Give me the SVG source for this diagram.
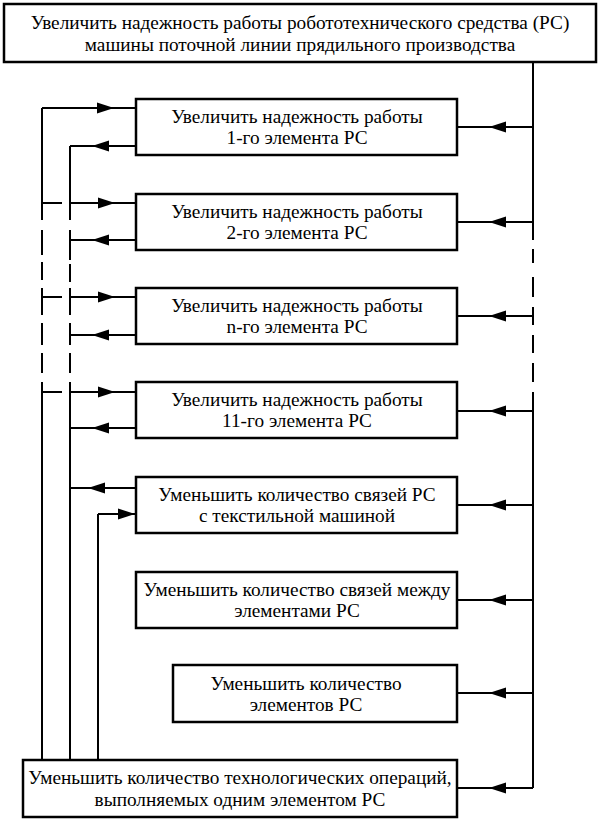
<svg xmlns="http://www.w3.org/2000/svg" width="599" height="831" viewBox="0 0 599 831">
<style>
.box{fill:#fff;stroke:#000;stroke-width:2.5}
.ln{fill:none;stroke:#000;stroke-width:2}
text{fill:#000;text-anchor:middle}
</style>
<defs>
<path id="aL" d="M0,0 L17,-5.5 L17,5.5 Z" fill="#000"/>
<path id="aR" d="M0,0 L-17,-5.5 L-17,5.5 Z" fill="#000"/>
</defs>
<rect width="599" height="831" fill="#fff"/>
<g id="connectors">
<path class="ln" d="M533,62 V240 M533,249 V263 M533,277 V297 M533,307 V325 M533,335 V353 M533,363 V382 M533,392 V788"/>
<path class="ln" d="M533,127 H457 M533,222 H457 M533,316 H457 M533,411 H457 M533,505 H457 M533,600 H457 M533,693 H457 M533,788 H457"/>
<use href="#aL" x="489" y="127"/><use href="#aL" x="489" y="222"/><use href="#aL" x="489" y="316"/><use href="#aL" x="489" y="411"/>
<use href="#aL" x="489" y="505"/><use href="#aL" x="489" y="600"/><use href="#aL" x="489" y="693"/><use href="#aL" x="489" y="788"/>
<path class="ln" d="M42,108 V220 M42,230 V255 M42,262 V280 M42,288 V315 M42,323 V345 M42,353 V373 M42,382 V760"/>
<path class="ln" d="M70,146 V220 M70,230 V260 M70,264 V282 M70,288 V315 M70,323 V345 M70,353 V373 M70,382 V760"/>
<path class="ln" d="M98,514 V760"/>
<path class="ln" d="M42,108 H136 M70,146 H136 M42,203 H62 M70,203 H136 M70,240 H136 M42,297 H62 M70,297 H136 M70,335 H136 M42,392 H62 M70,392 H136 M70,428 H136 M70,488 H136 M98,514 H136"/>
<use href="#aR" x="114" y="108"/><use href="#aL" x="92" y="146"/>
<use href="#aR" x="115" y="203"/><use href="#aL" x="92" y="240"/>
<use href="#aR" x="115" y="297"/><use href="#aL" x="92" y="335"/>
<use href="#aR" x="115" y="392"/><use href="#aL" x="92" y="428"/>
<use href="#aL" x="88" y="488"/><use href="#aR" x="135" y="514"/>
</g>
<g font-family="Liberation Serif, Times New Roman, serif" font-size="19.3">
<g id="top">
<rect class="box" x="4" y="4" width="592" height="58"/>
<text x="300" y="29">Увеличить надежность работы робототехнического средства (РС)</text>
<text x="300" y="51">машины поточной линии прядильного производства</text>
</g>
<g id="n1">
<rect class="box" x="136" y="99" width="321" height="56"/>
<text x="297" y="123">Увеличить надежность работы</text>
<text x="297" y="144">1-го элемента РС</text>
</g>
<g id="n2">
<rect class="box" x="136" y="194" width="321" height="56"/>
<text x="297" y="218">Увеличить надежность работы</text>
<text x="297" y="239">2-го элемента РС</text>
</g>
<g id="n3">
<rect class="box" x="136" y="288" width="321" height="56"/>
<text x="297" y="312">Увеличить надежность работы</text>
<text x="297" y="333">n-го элемента РС</text>
</g>
<g id="n4">
<rect class="box" x="136" y="382" width="321" height="56"/>
<text x="297" y="406">Увеличить надежность работы</text>
<text x="297" y="427">11-го элемента РС</text>
</g>
<g id="n5">
<rect class="box" x="136" y="477" width="321" height="56"/>
<text x="297" y="501">Уменьшить количество связей РС</text>
<text x="297" y="522">с текстильной машиной</text>
</g>
<g id="n6">
<rect class="box" x="136" y="572" width="321" height="56"/>
<text x="297" y="596">Уменьшить количество связей между</text>
<text x="297" y="617">элементами РС</text>
</g>
<g id="n7">
<rect class="box" x="173" y="665" width="284" height="57"/>
<text x="306" y="690">Уменьшить количество</text>
<text x="306" y="711">элементов РС</text>
</g>
<g id="bottom">
<rect class="box" x="23" y="760" width="434" height="57"/>
<text x="240" y="784">Уменьшить количество технологических операций,</text>
<text x="240" y="806">выполняемых одним элементом РС</text>
</g>
</g>
</svg>
